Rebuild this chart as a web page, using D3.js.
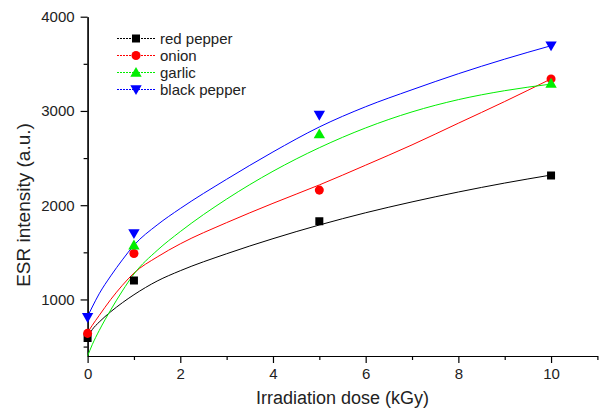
<!DOCTYPE html>
<html>
<head>
<meta charset="utf-8">
<script src="https://cdn.jsdelivr.net/npm/d3@7"></script>
<style>
  html, body { margin: 0; padding: 0; background: #fff; }
  svg { display: block; font-family: "Liberation Sans", Arial, sans-serif; }
</style>
</head>
<body>
<svg id="chart" width="603" height="410"></svg>
<script>
// ── Data ─────────────────────────────────────────────────────────────
const doses = [0, 1, 5, 10];
const redPepper = [590, 1200, 1830, 2316];
const onion = [640, 1488, 2160, 3340];
const garlic = [350, 1576, 2755, 3292];
const blackPepper = [810, 1700, 2956, 3692];

// fitted curves
const fitDoses = [0, 0.1, 0.25, 0.5, 0.75, 1, 1.5, 2, 3, 4, 5, 6, 7, 8, 9, 10];
const fitRedPepper = [600, 680, 760, 870, 965, 1050, 1195, 1305, 1485, 1645, 1790, 1920, 2035, 2140, 2235, 2320];
const fitOnion = [650, 725, 830, 1000, 1150, 1280, 1450, 1590, 1815, 2020, 2215, 2425, 2640, 2870, 3100, 3340];
const fitGarlic = [400, 520, 670, 890, 1090, 1270, 1520, 1720, 2065, 2360, 2610, 2820, 2990, 3120, 3215, 3285];
const fitBlackPepper = [820, 920, 1060, 1250, 1420, 1575, 1790, 1965, 2275, 2565, 2830, 3045, 3225, 3395, 3550, 3692];

const xMajor = [0, 2, 4, 6, 8, 10];
const xMinor = [1, 3, 5, 7, 9, 11];
const yMajor = [1000, 2000, 3000, 4000];
const yMinor = [500, 1500, 2500, 3500];

const series = [
  { name: 'red pepper', color: '#000000', symbol: 'square', values: redPepper, fit: fitRedPepper },
  { name: 'onion', color: '#ff0000', symbol: 'circle', values: onion, fit: fitOnion },
  { name: 'garlic', color: '#00ee00', symbol: 'up', values: garlic, fit: fitGarlic },
  { name: 'black pepper', color: '#0000ff', symbol: 'down', values: blackPepper, fit: fitBlackPepper },
];

// ── Layout ───────────────────────────────────────────────────────────
const margin = { left: 87.6, top: 16.7, right: 5.6, bottom: 54 };
const width = 603 - margin.left - margin.right;
const height = 410 - margin.top - margin.bottom;

const svg = d3.select('#chart');
const g = svg.append('g').attr('transform', `translate(${margin.left},${margin.top})`);

const x = d3.scaleLinear().domain([0, 11]).range([0, width]);
const y = d3.scaleLinear().domain([400, 4000]).range([height, 0]);

svg.append('defs').append('clipPath').attr('id', 'plot-clip')
  .append('rect').attr('x', -12).attr('y', -12).attr('width', width + 24).attr('height', height + 12);

// ── Axes ─────────────────────────────────────────────────────────────
function styleAxis(sel) {
  sel.select('.domain').attr('stroke', '#000').attr('stroke-width', 1.2);
  sel.selectAll('.tick line').attr('stroke', '#000').attr('stroke-width', 1.2);
  sel.selectAll('.tick text').attr('fill', '#222').attr('font-size', '15px')
    .attr('font-family', '"Liberation Sans", Arial, sans-serif');
}

g.append('g')
  .attr('transform', `translate(0,${height})`)
  .call(d3.axisBottom(x).tickValues(xMinor).tickSize(4).tickFormat('').tickSizeOuter(0))
  .call(styleAxis);
g.append('g')
  .attr('transform', `translate(0,${height})`)
  .call(d3.axisBottom(x).tickValues(xMajor).tickSize(7).tickPadding(5).tickSizeOuter(0))
  .call(styleAxis);

g.append('g')
  .call(d3.axisLeft(y).tickValues(yMinor.filter(v => v >= 400)).tickSize(4).tickFormat('').tickSizeOuter(0))
  .call(styleAxis);
g.append('g')
  .call(d3.axisLeft(y).tickValues(yMajor).tickSize(7).tickPadding(6).tickFormat(d3.format('d')).tickSizeOuter(0))
  .call(styleAxis);

// axis titles
svg.append('text')
  .attr('x', margin.left + width / 2)
  .attr('y', 398)
  .attr('text-anchor', 'middle')
  .attr('dominant-baseline', 'central')
  .attr('font-size', '18px')
  .attr('fill', '#222')
  .text('Irradiation dose (kGy)');

svg.append('text')
  .attr('transform', 'translate(23,205) rotate(-90)')
  .attr('text-anchor', 'middle')
  .attr('dominant-baseline', 'central')
  .attr('font-size', '19px')
  .attr('fill', '#222')
  .text('ESR intensity (a.u.)');

// ── Marks ────────────────────────────────────────────────────────────
const line = d3.line()
  .x((d, i) => x(fitDoses[i]))
  .y(d => y(d))
  .curve(d3.curveMonotoneX);

const plot = g.append('g').attr('clip-path', 'url(#plot-clip)');

plot.append('clipPath').attr('id', 'line-clip')
  .append('rect').attr('width', width).attr('height', height);

plot.append('g').attr('clip-path', 'url(#line-clip)')
  .selectAll('path')
  .data(series)
  .join('path')
  .attr('d', d => line(d.fit))
  .attr('fill', 'none')
  .attr('stroke', d => d.color)
  .attr('stroke-width', 1);

function symbolPath(type) {
  if (type === 'square') return d3.symbol(d3.symbolSquare, 64)();
  if (type === 'circle') return d3.symbol(d3.symbolCircle, 64)();
  return d3.symbol(d3.symbolTriangle, 56)();
}

function symbolTransform(type, px, py) {
  if (type === 'up') return `translate(${px},${py + 1})`;
  if (type === 'down') return `translate(${px},${py - 1}) rotate(180)`;
  return `translate(${px},${py})`;
}

for (const s of series) {
  plot.append('g')
    .selectAll('path')
    .data(s.values)
    .join('path')
    .attr('d', symbolPath(s.symbol))
    .attr('transform', (d, i) => symbolTransform(s.symbol, x(doses[i]), y(d)))
    .attr('fill', s.color);
}

// ── Legend ───────────────────────────────────────────────────────────
const legend = svg.append('g').attr('transform', 'translate(117,38.5)');
const row = legend.selectAll('g')
  .data(series)
  .join('g')
  .attr('transform', (d, i) => `translate(0,${i * 17})`);

row.append('line')
  .attr('x1', 0).attr('x2', 38)
  .attr('stroke', d => d.color)
  .attr('stroke-width', 1)
  .attr('stroke-dasharray', '2,1');

row.append('path')
  .attr('d', d => symbolPath(d.symbol))
  .attr('transform', d => symbolTransform(d.symbol, 19, 0))
  .attr('fill', d => d.color);

row.append('text')
  .attr('x', 43)
  .attr('dominant-baseline', 'central')
  .attr('font-size', '15px')
  .attr('fill', '#222')
  .text(d => d.name);
</script>
</body>
</html>
